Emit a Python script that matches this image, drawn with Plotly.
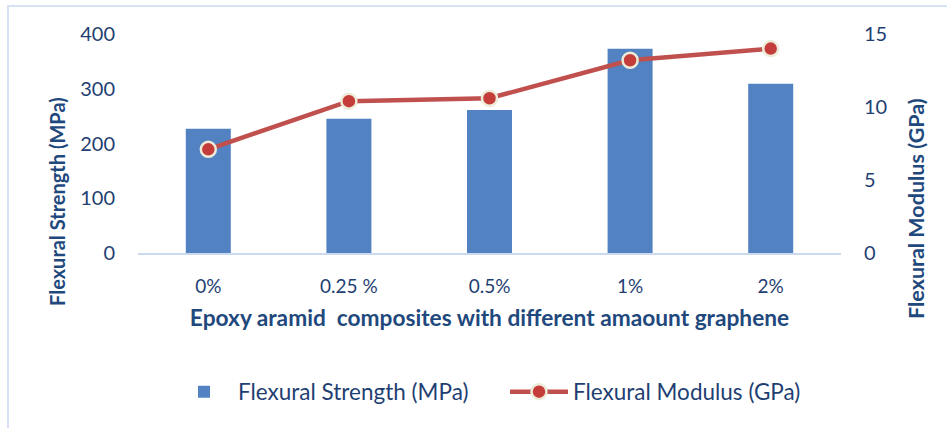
import plotly.graph_objects as go

# Graphene loading in the epoxy/aramid composites
categories = ["0%", "0.25 %", "0.5%", "1%", "2%"]
flexural_strength_mpa = [227, 245, 261, 373, 309]
flexural_modulus_gpa = [7.1, 10.4, 10.6, 13.2, 14.0]

strength_ticks = [0, 100, 200, 300, 400]
modulus_ticks = [0, 5, 10, 15]

FONT = "Lato"
NAVY = "#1F3F73"
TITLE_NAVY = "#1F497D"

# plot area in pixels (used to place the side titles, legend and frame)
PL, PR, PT, PB = 138, 841, 34, 253
PW, PH = PR - PL, PB - PT


def px_x(x):
    return (x - PL) / PW


def px_y(y):
    return (PB - y) / PH


fig = go.Figure()

fig.add_trace(go.Bar(
    x=categories,
    y=flexural_strength_mpa,
    name="Flexural Strength (MPa)",
    marker=dict(color="#5282C2", line=dict(width=0)),
    yaxis="y",
))

fig.add_trace(go.Scatter(
    x=categories,
    y=flexural_modulus_gpa,
    name="Flexural Modulus (GPa)",
    mode="lines+markers",
    line=dict(color="#C0504D", width=4.5),
    marker=dict(size=15, color="#C43D3B", line=dict(color="#EFEBD9", width=2.5)),
    yaxis="y2",
))

fig.update_layout(
    width=947,
    height=428,
    margin=dict(l=PL, r=947 - PR, t=PT, b=428 - PB),
    paper_bgcolor="white",
    plot_bgcolor="white",
    font=dict(family=FONT, color=NAVY, size=19),
    bargap=0.68,
    showlegend=True,
    legend=dict(
        orientation="h",
        x=px_x(170), xanchor="left",
        y=px_y(392), yanchor="middle",
        font=dict(family=FONT, size=22.5, color=NAVY),
        itemwidth=58,
        entrywidth=262,
        entrywidthmode="pixels",
        traceorder="normal",
    ),
    xaxis=dict(
        type="category",
        showgrid=False,
        showline=True,
        linecolor="#CCDAF0",
        linewidth=2,
        ticks="",
        ticklabelstandoff=15,
        tickfont=dict(family=FONT, size=19, color=NAVY),
        title=dict(
            text="<b>Epoxy aramid  composites with different amaount graphene</b>",
            font=dict(family=FONT, size=22.7, color=TITLE_NAVY),
            standoff=14,
        ),
    ),
    yaxis=dict(
        range=[0, 400],
        tickvals=strength_ticks,
        showgrid=False,
        zeroline=False,
        showline=False,
        ticklabelstandoff=22,
        tickfont=dict(family=FONT, size=20, color=NAVY),
    ),
    yaxis2=dict(
        range=[0, 15],
        tickvals=modulus_ticks,
        overlaying="y",
        side="right",
        showgrid=False,
        zeroline=False,
        showline=False,
        ticklabelstandoff=22,
        tickfont=dict(family=FONT, size=20, color=NAVY),
    ),
    annotations=[
        dict(
            text="<b>Flexural Strength (MPa)</b>",
            xref="paper", yref="paper",
            x=px_x(57), y=px_y(202),
            xanchor="center", yanchor="middle",
            textangle=-90, showarrow=False,
            font=dict(family=FONT, size=20, color=TITLE_NAVY),
        ),
        dict(
            text="<b>Flexural Modulus (GPa)</b>",
            xref="paper", yref="paper",
            x=px_x(916), y=px_y(209),
            xanchor="center", yanchor="middle",
            textangle=-90, showarrow=False,
            font=dict(family=FONT, size=21.5, color=TITLE_NAVY),
        ),
    ],
    shapes=[
        # chart-area frame
        dict(
            type="rect",
            xref="paper", yref="paper",
            x0=px_x(8), x1=px_x(960),
            y0=px_y(440), y1=px_y(6),
            line=dict(color="#D6E2F4", width=2),
            fillcolor="rgba(0,0,0,0)",
            layer="below",
        ),
    ],
)

fig.write_html("out.html")
